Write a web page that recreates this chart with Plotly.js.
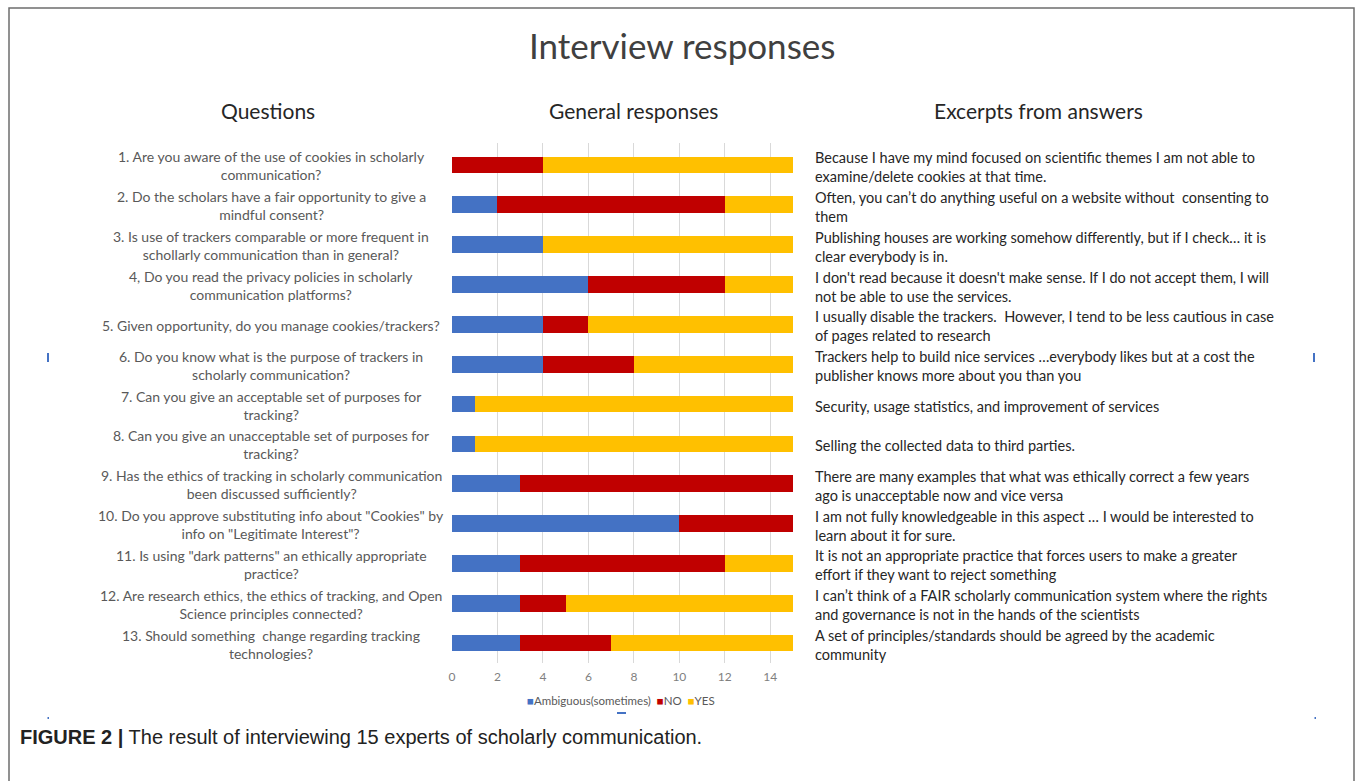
<!DOCTYPE html>
<html>
<head>
<meta charset="utf-8">
<script src="https://cdn.plot.ly/plotly-3.0.1.min.js"></script>
<style>html,body{margin:0;padding:0;background:#fff;}#chart{width:1357px;height:781px;}</style>
</head>
<body>
<div id="chart"></div>
<script>
const questions = [
  "1. Are you aware of the use of cookies in scholarly<br>communication?",
  "2. Do the scholars have a fair opportunity to give a<br>mindful consent?",
  "3. Is use of trackers comparable or more frequent in<br>schollarly communication than in general?",
  "4, Do you read the privacy policies in scholarly<br>communication platforms?",
  "5. Given opportunity, do you manage cookies/trackers?",
  "6. Do you know what is the purpose of trackers in<br>scholarly communication?",
  "7. Can you give an acceptable set of purposes for<br>tracking?",
  "8. Can you give an unacceptable set of purposes for<br>tracking?",
  "9. Has the ethics of tracking in scholarly communication<br>been discussed sufficiently?",
  "10. Do you approve substituting info about \"Cookies\" by<br>info on \"Legitimate Interest\"?",
  "11. Is using \"dark patterns\" an ethically appropriate<br>practice?",
  "12. Are research ethics, the ethics of tracking, and Open<br>Science principles connected?",
  "13. Should something&nbsp; change regarding tracking<br>technologies?"
];
const ambiguous = [0, 2, 4, 6, 4, 4, 1, 1, 3, 10, 3, 3, 3];
const no        = [4, 10, 0, 6, 2, 4, 0, 0, 12, 5, 9, 2, 4];
const yes       = [11, 3, 11, 3, 9, 7, 14, 14, 0, 0, 3, 10, 8];
const excerpts = [
  "Because I have my mind focused on scientific themes I am not able to<br>examine/delete cookies at that time.",
  "Often, you can’t do anything useful on a website without&nbsp; consenting to<br>them",
  "Publishing houses are working somehow differently, but if I check… it is<br>clear everybody is in.",
  "I don't read because it doesn't make sense. If I do not accept them, I will<br>not be able to use the services.",
  "I usually disable the trackers.&nbsp; However, I tend to be less cautious in case<br>of pages related to research",
  "Trackers help to build nice services …everybody likes but at a cost the<br>publisher knows more about you than you",
  "Security, usage statistics, and improvement of services",
  "Selling the collected data to third parties.",
  "There are many examples that what was ethically correct a few years<br>ago is unacceptable now and vice versa",
  "I am not fully knowledgeable in this aspect … I would be interested to<br>learn about it for sure.",
  "It is not an appropriate practice that forces users to make a greater<br>effort if they want to reject something",
  "I can’t think of a FAIR scholarly communication system where the rights<br>and governance is not in the hands of the scientists",
  "A set of principles/standards should be agreed by the academic<br>community"
];
const seriesNames = ["Ambiguous(sometimes)", "NO", "YES"];
const seriesColors = ["#4472C4", "#C00000", "#FFC000"];
const xTickVals = [0, 2, 4, 6, 8, 10, 12, 14];

const W = 1357, H = 781;
const px = v => v / W;
const py = v => 1 - v / H;
const FONT = "Lato, 'Open Sans', sans-serif";

const traces = [ambiguous, no, yes].map((vals, i) => ({
  type: "bar", orientation: "h",
  x: vals, y: questions,
  name: seriesNames[i],
  marker: {color: seriesColors[i]},
  hoverinfo: "x+name"
}));

const annotations = [];
annotations.push({xref:"paper", yref:"paper", x:px(682), y:py(45), text:"Interview responses",
  showarrow:false, xanchor:"center", yanchor:"middle", font:{family:FONT, size:35, color:"#404040"}});
[["Questions",268],["General responses",633],["Excerpts from answers",1038]].forEach(([t,x]) => {
  annotations.push({xref:"paper", yref:"paper", x:px(x), y:py(111), text:t, showarrow:false,
    xanchor:"center", yanchor:"middle", font:{family:FONT, size:21, color:"#262626"}});
});
questions.forEach((q, i) => {
  annotations.push({xref:"paper", yref:"y", x:px(271), y:q, text:q, showarrow:false, yshift:-1,
    xanchor:"center", yanchor:"middle", align:"center", font:{family:FONT, size:14, color:"#595959"}});
  annotations.push({xref:"paper", yref:"y", x:px(813), y:q, text:excerpts[i], showarrow:false, yshift:-2,
    xanchor:"left", yanchor:"middle", align:"left", font:{family:FONT, size:14.5, color:"#262626"}});
});
const legendText = seriesNames.map((n, i) =>
  `<span style="color:${seriesColors[i]}">■</span>${n}`).join("&nbsp;&nbsp;");
annotations.push({xref:"paper", yref:"paper", x:px(621), y:py(700), text:legendText, showarrow:false,
  xanchor:"center", yanchor:"middle", font:{family:FONT, size:11.5, color:"#595959"}});
annotations.push({xref:"paper", yref:"paper", x:px(18), y:py(737),
  text:"<b>FIGURE 2 |</b> The result of interviewing 15 experts of scholarly communication.",
  showarrow:false, xanchor:"left", yanchor:"middle",
  font:{family:"'Liberation Sans', Arial, sans-serif", size:20, color:"#222"}});

const shapes = [
  {type:"rect", xref:"paper", yref:"paper", x0:px(9), x1:px(1354), y0:py(8), y1:py(800),
   line:{color:"#6e6e6e", width:1.5}, fillcolor:"rgba(0,0,0,0)"},
  {type:"line", xref:"paper", yref:"paper", x0:px(48), x1:px(48), y0:py(353), y1:py(362), line:{color:"#4472C4", width:2}},
  {type:"line", xref:"paper", yref:"paper", x0:px(1314), x1:px(1314), y0:py(353), y1:py(362), line:{color:"#4472C4", width:2}},
  {type:"line", xref:"paper", yref:"paper", x0:px(617), x1:px(626), y0:py(713), y1:py(713), line:{color:"#4472C4", width:2}},
  {type:"rect", xref:"paper", yref:"paper", x0:px(47.5), x1:px(49), y0:py(717), y1:py(719), line:{width:0}, fillcolor:"#4472C4"},
  {type:"rect", xref:"paper", yref:"paper", x0:px(1314.5), x1:px(1316), y0:py(717), y1:py(719), line:{width:0}, fillcolor:"#4472C4"}
];

const layout = {
  width: W, height: H,
  margin: {l:0, r:0, t:0, b:0},
  paper_bgcolor: "#ffffff", plot_bgcolor: "#ffffff",
  barmode: "stack", bargap: 0.58,
  showlegend: false,
  xaxis: {domain:[px(452), px(793)], range:[0, 15], tickvals: xTickVals, ticktext: xTickVals.map(String),
    showgrid:true, gridcolor:"#d9d9d9", gridwidth:1, zeroline:false, showline:false, ticks:"",
    tickfont:{family:FONT, size:12, color:"#7f7f7f"}, ticklabelstandoff: 5, fixedrange:true},
  yaxis: {domain:[py(663), py(143)], type:"category", autorange:"reversed", showticklabels:false,
    showgrid:false, zeroline:false, showline:false, ticks:"", fixedrange:true},
  annotations, shapes,
  font:{family:FONT}
};

Plotly.newPlot("chart", traces, layout, {displayModeBar:false, staticPlot:true});
</script>
</body>
</html>
